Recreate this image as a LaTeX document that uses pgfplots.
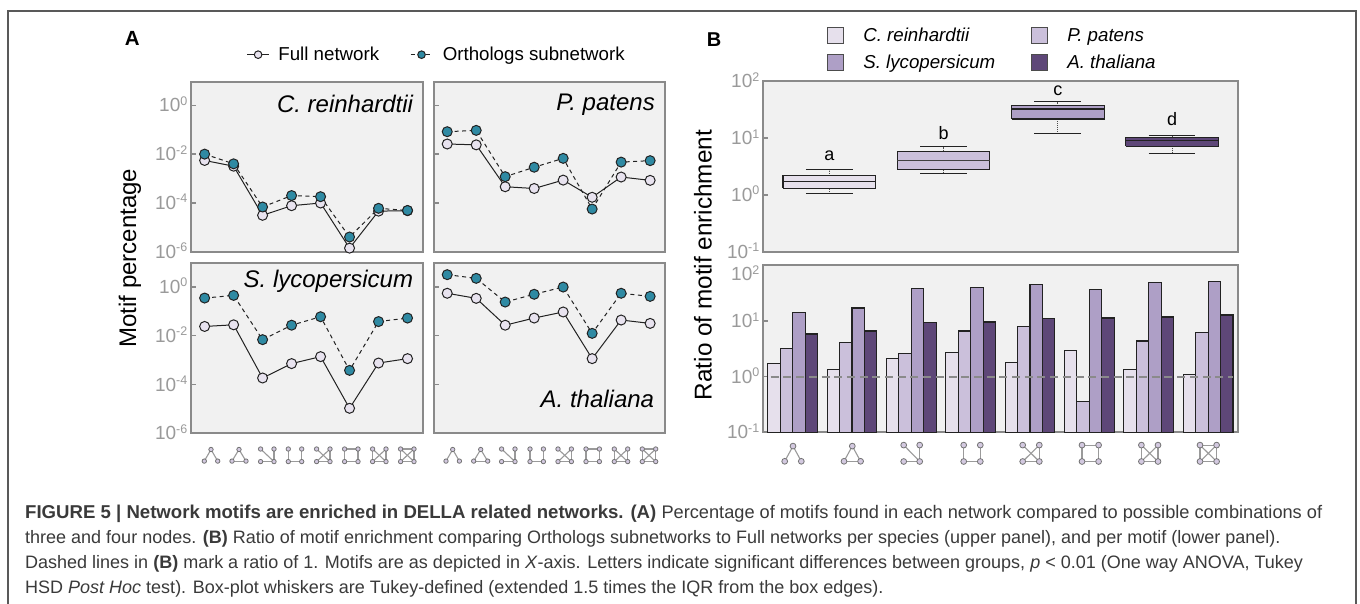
\documentclass[border=0pt]{standalone}
\usepackage{fontspec}
\setmainfont{Liberation Sans}
\usepackage{pgfplots}
\pgfplotsset{compat=1.18}
\definecolor{cFull}{HTML}{E8E3EF}
\definecolor{cOrth}{HTML}{2F8AA3}
\definecolor{cBg}{HTML}{F1F1F1}
\definecolor{cAx}{HTML}{8A8A8A}
\definecolor{cTk}{HTML}{9A9A9A}
\definecolor{cC}{HTML}{E6E0EC}
\definecolor{cP}{HTML}{CBC0DB}
\definecolor{cS}{HTML}{AE9FC6}
\definecolor{cA}{HTML}{5E4778}
\definecolor{cEd}{HTML}{222222}
\definecolor{cCap}{HTML}{3A3A3A}
\newcommand\fs[1]{\fontsize{#1}{#1}\selectfont}
\newcommand\tkl[1]{10\smash{\raisebox{6.5pt}{\fs{12.5}#1}}}
\newcommand\tklsh[1]{\smash{\raisebox{-9pt}{\tkl{#1}}}\vphantom{10}}
\pgfplotsset{
  myBase/.style={scale only axis, anchor=south west, clip=false,
    axis background/.style={fill=cBg},
    axis line style={draw=cAx,line width=2pt},
    tick style={draw=cAx,line width=1.4pt},
    major tick length=5pt, yminorticks=false, xtick=\empty,
    tick align=inside, ytick pos=left,
    yticklabel style={font=\fs{19},text=cTk,inner sep=0pt,xshift=-3.5pt}},
  myPanA/.style={myBase,width=231.6pt,height=170pt,xmin=-0.47,xmax=7.52,ymin=1e-6,ymax=9.3,
    ytick={1e-6,1e-4,1e-2,1}},
  myFull/.style={solid,draw=cEd,line width=1pt,mark=*,mark size=5pt,
    mark options={solid,fill=cFull,draw=cEd,line width=1pt}},
  myOrth/.style={draw=cEd,line width=1pt,dash pattern=on 4pt off 3.5pt,mark=*,mark size=5pt,
    mark options={solid,fill=cOrth,draw=cEd,line width=1pt}},
  myBox/.style={forget plot,draw=cEd,line width=1.1pt},
  myMed/.style={forget plot,draw=cEd,line width=1.5pt},
  myCap/.style={forget plot,draw=cEd,line width=.9pt},
  myStem/.style={forget plot,draw=black!70,line width=.9pt,dash pattern=on 1pt off 1pt},
}
\tikzset{myTtl/.style={font=\fs{24}\itshape,anchor=east,inner sep=0pt}}
% motif icons: edges as x1/y1/x2/y2 in unit coordinates
\def\motnT{0/-1,-1/1,1/1}
\def\motnF{-1/-1,1/-1,-1/1,1/1}
\def\moteA{0/-1/-1/1,0/-1/1/1}
\def\moteB{0/-1/-1/1,0/-1/1/1,-1/1/1/1}
\def\moteC{-1/-1/1/1,1/-1/1/1,-1/1/1/1}
\def\moteD{-1/-1/-1/1,1/-1/1/1,-1/1/1/1}
\def\moteE{-1/-1/1/1,1/-1/-1/1,1/-1/1/1,-1/1/1/1}
\def\moteF{-1/-1/1/-1,-1/-1/-1/1,1/-1/1/1,-1/1/1/1}
\def\moteG{-1/-1/1/1,1/-1/-1/1,-1/-1/-1/1,1/-1/1/1,-1/1/1/1}
\def\moteH{-1/-1/1/1,1/-1/-1/1,-1/-1/-1/1,1/-1/1/1,-1/1/1/1,-1/-1/1/-1}
\newcommand\mot[7]{%
  \begin{scope}[shift={(#1pt,-#2pt)},x=#3pt,y=-#4pt]
    \foreach \ea/\eb/\ec/\ed in #6 {\draw[draw=cTk,line width=1.1pt] (\ea,\eb)--(\ec,\ed);}
    \foreach \ep/\eq in #7 {\draw[draw=black!55,fill=cP!85!white,line width=.8pt] (\ep,\eq) circle[radius=#5pt];}
  \end{scope}}
\begin{document}
\begin{tikzpicture}
\path[use as bounding box,fill=white] (0pt,0pt) rectangle (1360pt,-604pt);
\draw[draw=black!65,line width=1.2pt] (8pt,-604pt)--(8pt,-11pt)--(1356pt,-11pt)--(1356pt,-604pt);

% Panel A1
\begin{semilogyaxis}[myPanA,at={(191pt,-251.7pt)},
  yticklabels={\tkl{-6},\tkl{-4},\tkl{-2},\tkl{0}},
  legend columns=2,
  legend style={draw=none,fill=none,at={(0.241,1.159)},anchor=west,inner sep=0pt,outer sep=0pt,
    font=\fs{18.7},/tikz/every even column/.append style={column sep=31pt},
    nodes={inner sep=0pt}},
  legend cell align=left,
  legend image code/.code={\draw[mark repeat=2,mark phase=2,mark size=3.8pt,#1] plot coordinates {(0pt,0pt)(10.8pt,0pt)(21.6pt,0pt)};}]
\addplot[myFull] coordinates {(0,5.5e-3)(1,3.2e-3)(2,3.1e-5)(3,7.7e-5)(4,9.9e-5)(5,1.4e-6)(6,4.6e-5)(7,4.8e-5)};
\addlegendentry{\hspace{9pt}Full network}
\addplot[myOrth] coordinates {(0,1.0e-2)(1,4.0e-3)(2,6.8e-5)(3,2.0e-4)(4,1.8e-4)(5,4.0e-6)(6,6.0e-5)(7,4.9e-5)};
\addlegendentry{\hspace{10pt}Orthologs subnetwork}
\end{semilogyaxis}
\node[myTtl] at (413.3pt,-104pt) {C. reinhardtii};

% Panel A2
\begin{semilogyaxis}[myPanA,at={(433.6pt,-251.7pt)},yticklabels={,,,}]
\addplot[myFull] coordinates {(0,2.6e-2)(1,2.4e-2)(2,4.6e-4)(3,3.9e-4)(4,8.6e-4)(5,1.7e-4)(6,1.15e-3)(7,8.4e-4)};
\addplot[myOrth] coordinates {(0,8.3e-2)(1,9.4e-2)(2,1.19e-3)(3,2.9e-3)(4,6.7e-3)(5,5.6e-5)(6,4.7e-3)(7,5.4e-3)};
\end{semilogyaxis}
\node[myTtl] at (655pt,-104.3pt) {P. patens};

% Panel A3
\begin{semilogyaxis}[myPanA,at={(191pt,-433.3pt)},
  yticklabels={\tkl{-6},\tkl{-4},\tkl{-2},\tkl{0}}]
\addplot[myFull] coordinates {(0,2.4e-2)(1,2.8e-2)(2,1.85e-4)(3,7.2e-4)(4,1.39e-3)(5,1.06e-5)(6,7.6e-4)(7,1.15e-3)};
\addplot[myOrth] coordinates {(0,0.35)(1,0.45)(2,6.9e-3)(3,2.7e-2)(4,6.0e-2)(5,3.8e-4)(6,3.8e-2)(7,5.3e-2)};
\end{semilogyaxis}
\node[myTtl] at (413.3pt,-281.7pt) {S. lycopersicum};

% Panel A4
\begin{semilogyaxis}[myPanA,at={(433.6pt,-433.3pt)},yticklabels={,,,}]
\addplot[myFull] coordinates {(0,0.55)(1,0.34)(2,2.7e-2)(3,5.3e-2)(4,9.4e-2)(5,1.15e-3)(6,4.4e-2)(7,3.2e-2)};
\addplot[myOrth] coordinates {(0,3.18)(1,2.25)(2,0.24)(3,0.50)(4,0.99)(5,1.25e-2)(6,0.55)(7,0.41)};
\end{semilogyaxis}
\node[myTtl] at (654.3pt,-399pt) {A. thaliana};

% Panel B top
\begin{semilogyaxis}[myBase,at={(763pt,-251.7pt)},width=475.3pt,height=170.4pt,
  xmin=-0.58,xmax=3.58,ymin=0.1,ymax=100,
  ytick={0.1,1,10,100},yticklabels={\tkl{-1},\tkl{0},\tkl{1},\tkl{2}},
  legend columns=2,
  legend style={draw=none,fill=none,at={(0.1353,1.318)},anchor=north west,inner sep=0pt,outer sep=0pt,
    font=\fs{18.7}\itshape,row sep=10pt,
    /tikz/every odd column/.append style={column sep=19pt},
    /tikz/every even column/.append style={column sep=36pt},
    nodes={inner sep=0pt}},
  legend cell align=left,
  legend image code/.code={\draw[#1] (0pt,-8pt) rectangle (16pt,8pt);}]
\addlegendimage{fill=cC,draw=black!70,line width=1pt}
\addlegendimage{fill=cP,draw=black!70,line width=1pt}
\addlegendimage{fill=cS,draw=black!70,line width=1pt}
\addlegendimage{fill=cA,draw=black!70,line width=1pt}
\legend{C. reinhardtii,P. patens,S. lycopersicum,A. thaliana}
% box a
\addplot[myStem] coordinates {(0,1.05)(0,2.78)};
\addplot[myCap] coordinates {(-0.205,1.05)(0.205,1.05)};
\addplot[myCap] coordinates {(-0.205,2.78)(0.205,2.78)};
\addplot[myBox,fill=cC] coordinates {(-0.405,1.32)(0.405,1.32)(0.405,2.18)(-0.405,2.18)(-0.405,1.32)};
\addplot[myMed] coordinates {(-0.405,1.73)(0.405,1.73)};
% box b
\addplot[myStem] coordinates {(1,2.39)(1,7.06)};
\addplot[myCap] coordinates {(0.795,2.39)(1.205,2.39)};
\addplot[myCap] coordinates {(0.795,7.06)(1.205,7.06)};
\addplot[myBox,fill=cP] coordinates {(0.595,2.78)(1.405,2.78)(1.405,5.76)(0.595,5.76)(0.595,2.78)};
\addplot[myMed,draw=black!75] coordinates {(0.595,4.0)(1.405,4.0)};
% box c
\addplot[myStem] coordinates {(2,11.9)(2,43.7)};
\addplot[myCap] coordinates {(1.795,11.9)(2.205,11.9)};
\addplot[myCap] coordinates {(1.795,43.7)(2.205,43.7)};
\addplot[myBox,fill=cS] coordinates {(1.595,21.7)(2.405,21.7)(2.405,37.7)(1.595,37.7)(1.595,21.7)};
\addplot[myMed] coordinates {(1.595,32.5)(2.405,32.5)};
% box d
\addplot[myStem] coordinates {(3,5.4)(3,11.3)};
\addplot[myCap] coordinates {(2.795,5.4)(3.205,5.4)};
\addplot[myCap] coordinates {(2.795,11.3)(3.205,11.3)};
\addplot[myBox,fill=cA] coordinates {(2.595,7.15)(3.405,7.15)(3.405,10.3)(2.595,10.3)(2.595,7.15)};
\addplot[myMed] coordinates {(2.595,9.0)(3.405,9.0)};
\node[font=\fs{18}] at (axis cs:0,4.9) {a};
\node[font=\fs{18}] at (axis cs:1,12.1) {b};
\node[font=\fs{18}] at (axis cs:2,69) {c};
\node[font=\fs{18}] at (axis cs:3,21.4) {d};
\end{semilogyaxis}

% Panel B bottom
\begin{semilogyaxis}[myBase,at={(763pt,-432.3pt)},width=475.3pt,height=167pt,
  xmin=-0.5,xmax=7.51,ymin=0.1,ymax=100,
  ytick={0.1,1,10,100},yticklabels={\tkl{-1},\tkl{0},\tkl{1},\tklsh{2}},
  ybar=0pt,bar width=12.45pt,log origin=infty]
\addplot[fill=cC,draw=cEd,line width=1.1pt] coordinates {(0,1.75)(1,1.33)(2,2.1)(3,2.72)(4,1.8)(5,2.96)(6,1.35)(7,1.09)};
\addplot[fill=cP,draw=cEd,line width=1.1pt] coordinates {(0,3.22)(1,4.07)(2,2.58)(3,6.6)(4,7.9)(5,0.352)(6,4.36)(7,6.16)};
\addplot[fill=cS,draw=cEd,line width=1.1pt] coordinates {(0,14.1)(1,17.1)(2,37.7)(3,39.9)(4,45.2)(5,37.2)(6,48.4)(7,51.1)};
\addplot[fill=cA,draw=cEd,line width=1.1pt] coordinates {(0,5.83)(1,6.6)(2,9.46)(3,9.6)(4,11.0)(5,11.3)(6,11.8)(7,12.8)};
\end{semilogyaxis}
\begin{semilogyaxis}[scale only axis,anchor=south west,at={(763pt,-432.3pt)},width=475.3pt,height=167pt,
  xmin=-0.5,xmax=7.51,ymin=0.1,ymax=100,axis lines=none]
\addplot[draw=cAx,line width=2pt,dash pattern=on 8pt off 4.7pt] coordinates {(-0.37,1)(7.42,1)};
\end{semilogyaxis}

% Text
\node[font=\fs{24},rotate=90] at (130pt,-258pt) {Motif percentage};
\node[font=\fs{24.3},rotate=90] at (703pt,-265pt) {Ratio of motif enrichment};
\node[font=\fs{20.5}\bfseries] at (132.3pt,-38.7pt) {A};
\node[font=\fs{20}\bfseries] at (714pt,-39.3pt) {B};

% Motif icons
\mot{211}{455.3}{6.7}{5.8}{2.2}{\moteA}{\motnT}
\mot{239}{455.3}{7}{5.8}{2.2}{\moteB}{\motnT}
\mot{267.3}{455.3}{6.7}{6.3}{2.2}{\moteC}{\motnF}
\mot{295}{455.3}{6.7}{6.3}{2.2}{\moteD}{\motnF}
\mot{323.3}{455.3}{6.7}{6.3}{2.2}{\moteE}{\motnF}
\mot{351.3}{455.3}{6.7}{6.3}{2.2}{\moteF}{\motnF}
\mot{379.3}{455.3}{6.7}{6.3}{2.2}{\moteG}{\motnF}
\mot{407.3}{455.3}{6.7}{6.3}{2.2}{\moteH}{\motnF}
\mot{452.7}{455.3}{6.7}{5.8}{2.2}{\moteA}{\motnT}
\mot{480.7}{455.3}{7}{5.8}{2.2}{\moteB}{\motnT}
\mot{508.3}{455.3}{6.7}{6.3}{2.2}{\moteC}{\motnF}
\mot{536.7}{455.3}{6.7}{6.3}{2.2}{\moteD}{\motnF}
\mot{564.7}{455.3}{6.7}{6.3}{2.2}{\moteE}{\motnF}
\mot{592.7}{455.3}{6.7}{6.3}{2.2}{\moteF}{\motnF}
\mot{621}{455.3}{6.7}{6.3}{2.2}{\moteG}{\motnF}
\mot{649}{455.3}{6.7}{6.3}{2.2}{\moteH}{\motnF}
\mot{793}{453.7}{8.3}{7.6}{2.9}{\moteA}{\motnT}
\mot{852.3}{453.7}{8.3}{7.6}{2.9}{\moteB}{\motnT}
\mot{911.7}{453.3}{8}{8.2}{2.9}{\moteC}{\motnF}
\mot{972}{453.3}{8.3}{8.2}{2.9}{\moteD}{\motnF}
\mot{1031}{453.3}{8.3}{8.2}{2.9}{\moteE}{\motnF}
\mot{1090.3}{453.3}{8.3}{8.2}{2.9}{\moteF}{\motnF}
\mot{1149.7}{453.3}{8.3}{8.2}{2.9}{\moteG}{\motnF}
\mot{1208.3}{453.3}{8.3}{8.2}{2.9}{\moteH}{\motnF}

% Caption
\begin{scope}[every node/.style={anchor=base west,inner sep=0pt,text=cCap,font=\fs{18}}]
\node at (25pt,-518.5pt) {\fs{18.6}\textbf{FIGURE 5 | Network motifs are enriched in DELLA related networks. (A)} \fs{18.2}Percentage of motifs found in each network compared to possible combinations of};
\node at (25pt,-543.5pt) {three and four nodes. \textbf{(B)} Ratio of motif enrichment comparing Orthologs subnetworks to Full networks per species (upper panel), and per motif (lower panel).};
\node at (25pt,-568.5pt) {Dashed lines in \textbf{(B)} mark a ratio of 1. Motifs are as depicted in \textit{X}-axis. Letters indicate significant differences between groups, \textit{p} < 0.01 (One way ANOVA, Tukey};
\node at (25pt,-593.5pt) {HSD \textit{Post Hoc} test). Box-plot whiskers are Tukey-defined (extended 1.5 times the IQR from the box edges).};
\end{scope}
\end{tikzpicture}
\end{document}
